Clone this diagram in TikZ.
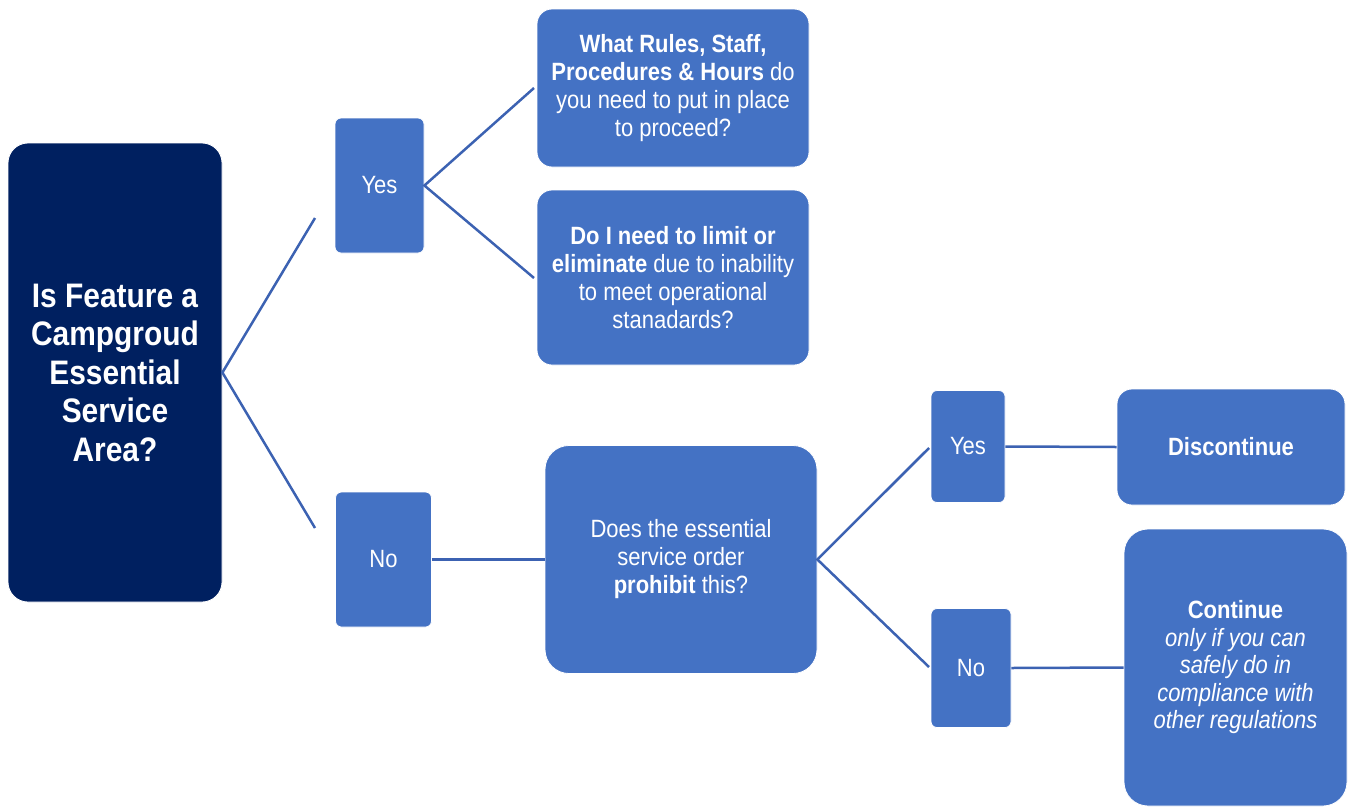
\documentclass[tikz,border=0pt]{standalone}
\usepackage{fontspec}
\setmainfont{Liberation Sans}[FakeStretch=0.88]
\definecolor{navy}{RGB}{0,32,96}
\definecolor{accent}{RGB}{68,114,196}
\definecolor{linec}{RGB}{60,98,178}
\tikzset{
  box/.style={fill=accent, draw=white, line width=0.8pt, text=white, align=center, inner sep=0pt},
  navybox/.style={fill=navy, draw=white, line width=0.8pt, text=white, align=center, inner sep=0pt, rounded corners=20pt},
  conn/.style={draw=linec, line width=2.5pt},
  txt/.style={font=\fontsize{25}{28}\selectfont},
  bigtxt/.style={font=\bfseries\fontsize{34}{38.5}\selectfont}
}
\begin{document}
\begin{tikzpicture}[x=1pt,y=-1pt]
\useasboundingbox (0,0) rectangle (1351,806);
% boxes
\node[navybox, bigtxt, minimum width=214pt, minimum height=459pt] (main) at (115,372.5)
  {Is Feature a\\Campgroud\\Essential\\Service\\Area?};
\node[box, txt, rounded corners=6pt, minimum width=89pt, minimum height=135pt] (yes1) at (379.5,185.5) {Yes};
\node[box, txt, rounded corners=15pt, minimum width=272pt, minimum height=158pt] (r1) at (673,88)
  {\textbf{What Rules, Staff,}\\\textbf{Procedures \& Hours} do\\you need to put in place\\to proceed?};
\node[box, txt, rounded corners=15pt, minimum width=272pt, minimum height=175pt] (r2) at (673,277.5)
  {\textbf{Do I need to limit or}\\\textbf{eliminate} due to inability\\to meet operational\\stanadards?};
\node[box, txt, rounded corners=6pt, minimum width=96pt, minimum height=135pt] (no1) at (383.5,559.5) {No};
\node[box, txt, rounded corners=24pt, minimum width=272pt, minimum height=228pt] (mid) at (681,559.5)
  {Does the essential\\service order\\\textbf{prohibit} this?};
\node[box, txt, rounded corners=6pt, minimum width=74pt, minimum height=112pt] (yes2) at (968,446.5) {Yes};
\node[box, txt, rounded corners=6pt, minimum width=80pt, minimum height=119pt] (no2) at (971,668) {No};
\node[box, txt, rounded corners=15pt, minimum width=228pt, minimum height=116pt] (disc) at (1231,447) {\textbf{Discontinue}};
\node[box, font=\fontsize{25}{27.5}\selectfont, rounded corners=24pt, minimum width=223pt, minimum height=277pt] (cont) at (1235.5,667.5)
  {\textbf{Continue}\\\itshape only if you can\\\itshape safely do in\\\itshape compliance with\\\itshape other regulations};
% free ends
\coordinate (c1) at (315,218);
\coordinate (c2) at (315,528);
\coordinate (c3) at (534,88);
\coordinate (c4) at (534,278);
\coordinate (c5) at (929,448);
\coordinate (c6) at (929,667);
% connectors
\draw[conn] (c1) -- (main.east) -- (c2);
\draw[conn] (c3) -- (yes1.east) -- (c4);
\draw[conn] (no1.east) -- (mid.west);
\draw[conn] (c5) -- (mid.east) -- (c6);
\draw[conn] (yes2.east) -- (disc.west);
\draw[conn] (no2.east) -- (cont.west);
\end{tikzpicture}
\end{document}
